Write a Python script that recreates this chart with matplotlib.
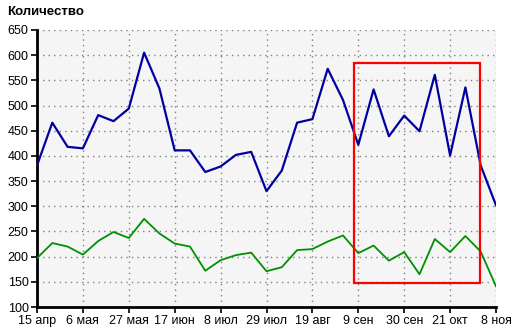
import matplotlib.pyplot as plt
from matplotlib.patches import Rectangle

plt.rcParams['font.family'] = ['Liberation Sans', 'DejaVu Sans']

# weekly values, 15 apr .. 8 nov
blue = [381, 466, 418, 415, 481, 469, 494, 605, 534, 411, 411, 368, 379, 402, 408,
        330, 371, 466, 473, 573, 511, 422, 532, 439, 480, 449, 561, 401, 536, 381, 302]
green = [197, 227, 220, 204, 231, 249, 237, 275, 246, 226, 220, 172, 193, 203, 208,
         171, 179, 213, 215, 230, 242, 207, 222, 192, 209, 165, 235, 209, 241, 210, 141]
tick_labels = ['15 апр', '6 мая', '27 мая', '17 июн', '8 июл', '29 июл',
               '19 авг', '9 сен', '30 сен', '21 окт', '8 ноя']
highlight = (20.7, 28.95, 147, 584)  # x0, x1, y0, y1

x = list(range(len(blue)))

fig = plt.figure(figsize=(5.22, 3.33), dpi=100)
ax = fig.add_axes([37/522, 1-307/333, (496-37)/522, (307-30)/333])
ax.set_facecolor('#f5f5f5')

ax.plot(x, blue, color='#0000a0', lw=1.6, zorder=3)
ax.plot(x, green, color='#009000', lw=1.3, zorder=3)

x0, x1, y0, y1 = highlight
ax.add_patch(Rectangle((x0, y0), x1 - x0, y1 - y0, fill=False,
                       edgecolor='#ff0000', lw=1.6, zorder=4))

ax.set_xlim(0, 30)
ax.set_ylim(100, 650)
ax.set_xticks(range(0, 31, 3))
ax.set_xticklabels(tick_labels)
ax.set_yticks(range(100, 651, 50))
ax.grid(True, color='#808080', linestyle=(0, (1, 3)), lw=1)

for s in ['top', 'right']:
    ax.spines[s].set_visible(False)
for s in ['left', 'bottom']:
    ax.spines[s].set_linewidth(2)
ax.tick_params(labelsize=9, length=4, width=1.2, pad=2)

fig.text(7/522, 1-12/333, 'Количество', fontsize=9.5, fontweight='bold',
         va='center', ha='left')

fig.savefig('out.png', dpi=100)
